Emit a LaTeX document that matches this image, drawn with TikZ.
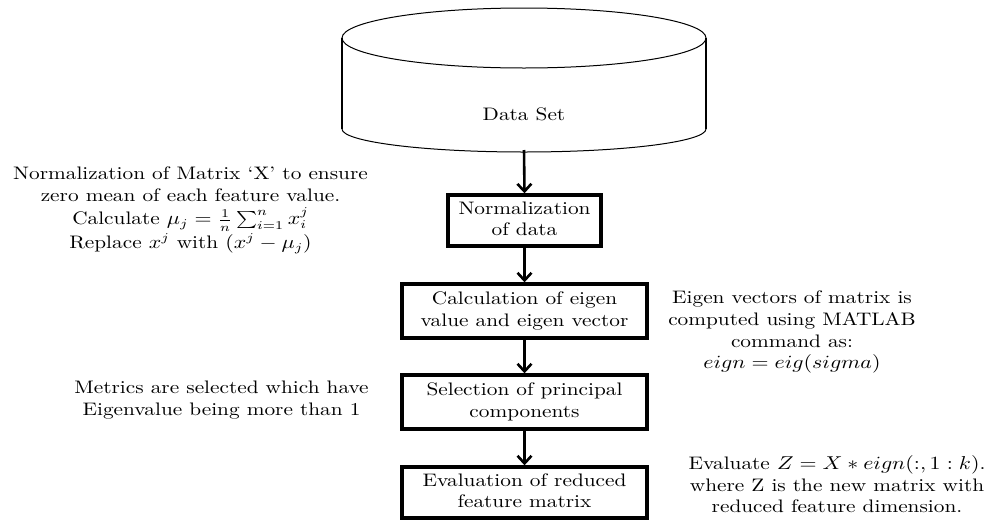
\documentclass[tikz,border=0pt]{standalone}
\usetikzlibrary{arrows.meta}
% centred multi-line text, set slightly flatter than usual
\newcommand{\sqz}[1]{\scalebox{1}[0.85]{\begin{tabular}{@{}c@{}}#1\end{tabular}}}
\begin{document}
\begin{tikzpicture}[x=0.5pt,y=-0.5pt,
  every node/.style={font=\fontsize{10.65}{12.7}\selectfont},
  stepbox/.style={draw, line width=1.7pt, inner sep=0pt},
  note/.style={inner sep=0pt},
  flow/.style={line width=1.3pt, -{Straight Barb[length=3.8pt,width=7pt,line width=1.3pt]}}]
\useasboundingbox (0,0) rectangle (988,520);

% data store cylinder
\draw[line width=0.5pt] (524,38) ellipse [x radius=91pt, y radius=15pt];
\draw[line width=0.5pt] (342,129) arc [start angle=180, end angle=360, x radius=91pt, y radius=11.5pt];
\draw[line width=1.1pt] (342,38) -- (342,129);
\draw[line width=1.1pt] (706,38) -- (706,129);
\node[note] (data) at (524,116) {\sqz{Data Set}};
\coordinate (dbot) at (524,150);

% processing steps
\node[stepbox, minimum width=76.5pt, minimum height=25.5pt] (norm) at (524.5,220.5) {\sqz{Normalization\\of data}};
\node[stepbox, minimum width=122.5pt, minimum height=27pt] (eig) at (524.5,311) {\sqz{Calculation of eigen\\value and eigen vector}};
\node[stepbox, minimum width=122.5pt, minimum height=27pt] (sel) at (524.5,402) {\sqz{Selection of principal\\components}};
\node[stepbox, minimum width=122.5pt, minimum height=25.5pt] (red) at (524.5,492.5) {\sqz{Evaluation of reduced\\feature matrix}};

\draw[flow] (dbot) -- (norm.north);
\draw[flow] (norm) -- (eig);
\draw[flow] (eig) -- (sel);
\draw[flow] (sel) -- (red);

% side notes
\node[note] (n1) at (190.5,210) {\sqz{Normalization of Matrix \textquoteleft X\textquoteright\ to ensure\\zero mean of each feature value.\\Calculate $\mu_j=\frac{1}{n}\sum_{i=1}^{n}x_i^j$\\[1.5pt]Replace $x^j$ with $(x^j-\mu_j)$}};
\node[note] (n2) at (792,332) {\sqz{Eigen vectors of matrix is\\computed using MATLAB\\command as:\\$eign=eig(sigma)$}};
\node[note] (n3) at (221.5,400) {\sqz{Metrics are selected which have\\Eigenvalue being more than 1}};
\node[note] (n4) at (837,487) {\sqz{Evaluate $Z=X*eign(:,1:k)$.\\where Z is the new matrix with\\reduced feature dimension.}};
\end{tikzpicture}
\end{document}
